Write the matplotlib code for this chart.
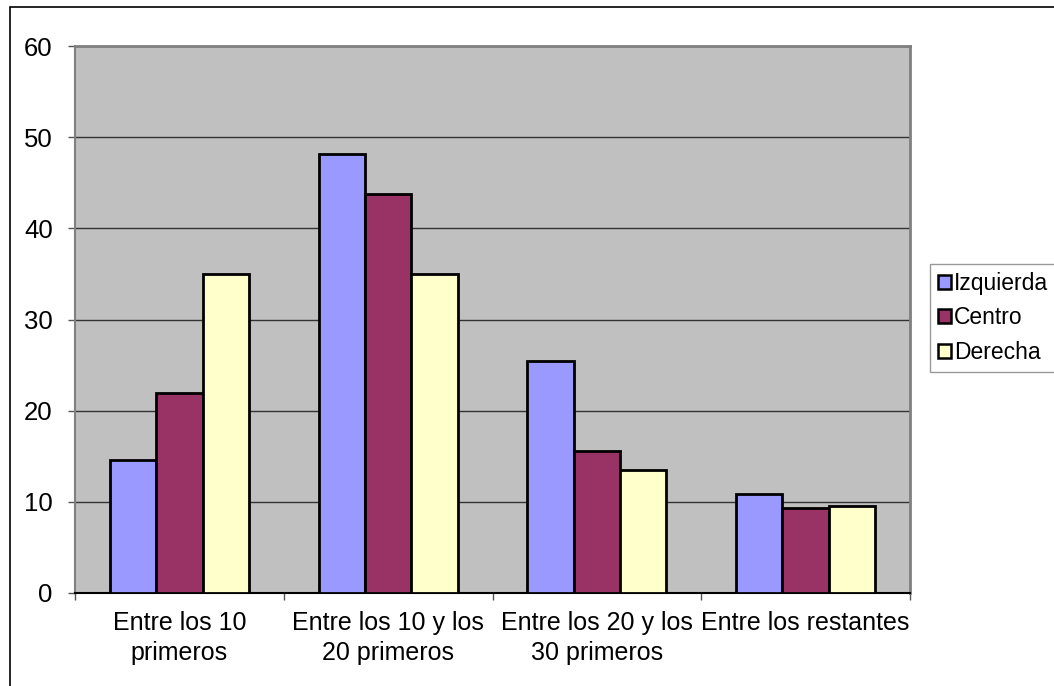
import matplotlib
matplotlib.use("Agg")
import matplotlib.pyplot as plt
import numpy as np
from matplotlib.patches import Rectangle

categories = ["Entre los 10\nprimeros", "Entre los 10 y los\n20 primeros",
              "Entre los 20 y los\n30 primeros", "Entre los restantes"]
series_names = ["Izquierda", "Centro", "Derecha"]
izquierda = [14.6, 48.1, 25.5, 10.9]
centro = [21.9, 43.8, 15.6, 9.3]
derecha = [35.0, 35.0, 13.5, 9.5]
y_ticks = [0, 10, 20, 30, 40, 50, 60]

colors = ["#9999FF", "#993366", "#FFFFCC"]

plt.rcParams['font.family'] = ['Liberation Sans', 'DejaVu Sans']

fig = plt.figure(figsize=(10.54, 6.86), dpi=100)
fig.patch.set_facecolor("white")
# outer chart border (top & left visible)
fig.add_artist(Rectangle((10/1054, -0.05), 1.1, (686-7)/686 + 0.05,
                         transform=fig.transFigure, fill=False,
                         edgecolor="black", linewidth=1.2))

ax = fig.add_axes([75/1054, (686-593)/686, (910-75)/1054, (593-46)/686])
ax.set_facecolor("#C0C0C0")

x = np.arange(len(categories))
w = 1/4.5
data = [izquierda, centro, derecha]
for i, (vals, c, name) in enumerate(zip(data, colors, series_names)):
    ax.bar(x + (i-1)*w, vals, width=w, color=c, edgecolor="black",
           linewidth=2.0, label=name, zorder=3)

ax.set_xlim(-0.5, len(categories)-0.5)
ax.set_ylim(0, 60)
ax.set_yticks(y_ticks)
ax.set_yticklabels([str(v) for v in y_ticks], fontsize=18.5)
ax.yaxis.grid(True, color="#333333", linewidth=1.0, zorder=1)
ax.set_axisbelow(True)

ax.set_xticks(np.arange(-0.5, len(categories), 1.0))
ax.set_xticklabels([])
ax.set_xticks(x, minor=True)
ax.set_xticklabels(categories, minor=True, fontsize=18, linespacing=1.3)
ax.tick_params(axis='x', which='minor', length=0, pad=13)
ax.tick_params(axis='x', which='major', length=5, width=1, color="#555555")
ax.tick_params(axis='y', length=5, width=1, color="#555555", pad=11)

for s in ["top", "right"]:
    ax.spines[s].set_color("#808080")
    ax.spines[s].set_linewidth(2)
ax.spines["left"].set_color("#808080")
ax.spines["left"].set_linewidth(1.5)
ax.spines["bottom"].set_color("black")
ax.spines["bottom"].set_linewidth(1.5)

leg = ax.legend(loc="upper left", bbox_to_anchor=(930/1054, (686-264)/686),
                bbox_transform=fig.transFigure, fontsize=16.5,
                frameon=True, fancybox=False, edgecolor="#808080",
                handlelength=0.55, handleheight=0.55, handletextpad=0.15,
                borderpad=0.35, labelspacing=0.5, borderaxespad=0)
leg.get_frame().set_linewidth(1.0)
for h in leg.legend_handles:
    h.set_linewidth(1.8)

fig.savefig("out.png", dpi=100)
